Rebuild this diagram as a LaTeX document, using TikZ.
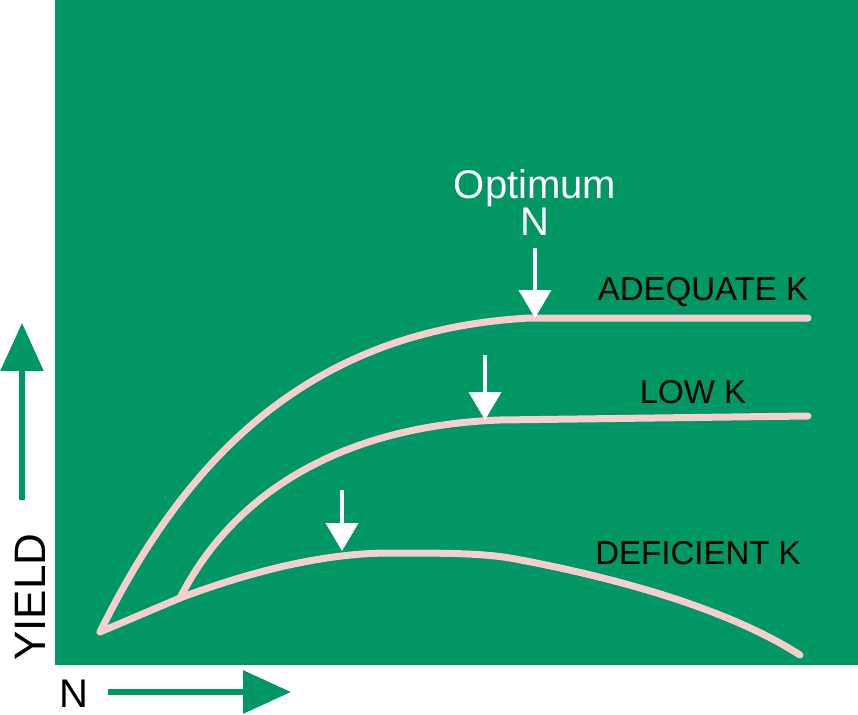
\documentclass[tikz,border=0pt]{standalone}
\usepackage{fontspec}
\setmainfont{Liberation Sans}
\usetikzlibrary{arrows.meta}
\definecolor{bg}{RGB}{0,150,102}
\definecolor{curve}{RGB}{246,206,204}
\tikzset{
 crv/.style={curve,line width=7pt,line cap=round,line join=round},
 warr/.style={white,line width=4pt,-{Triangle[width=32pt,length=28pt]}},
 garr/.style={bg,line width=6pt,-{Triangle[width=42pt,length=48pt]}},
 lbl/.style={font=\fontsize{33}{33}\selectfont,black},
}
\begin{document}
\begin{tikzpicture}[x=1pt,y=-1pt]
\useasboundingbox (0,0) rectangle (858,714);
\fill[bg] (55,0) rectangle (858,665);
% curves
\draw[crv] (100,632) .. controls (180,470) and (300,330) .. (530,318) -- (808,318);
\draw[crv] (180,598) .. controls (240,480) and (360,425) .. (500,420) -- (808,416);
\draw[crv] (100,632) -- (180,598) .. controls (260,568) and (330,553) .. (390,553) .. controls (440,553) and (480,553) .. (510,558) .. controls (620,578) and (730,610) .. (800,655);
% arrows
\coordinate (a1s) at (535,248); \coordinate (a1e) at (535,318);
\coordinate (a2s) at (485,355); \coordinate (a2e) at (485,420);
\coordinate (a3s) at (342,490); \coordinate (a3e) at (342,551);
\draw[warr] (a1s) -- (a1e);
\draw[warr] (a2s) -- (a2e);
\draw[warr] (a3s) -- (a3e);
\node[white,font=\fontsize{40}{40}\selectfont] (opt) at (535,188) {Optimum};
\node[white,font=\fontsize{40}{40}\selectfont] (optn) at (535,222) {N};
\node[lbl] (ad) at (703,292) {ADEQUATE K};
\node[lbl] (low) at (693,392) {LOW K};
\node[lbl] (def) at (698,553) {DEFICIENT K};
% axes
\coordinate (ys) at (22,500); \coordinate (ye) at (22,323);
\draw[garr] (ys) -- (ye);
\coordinate (xs) at (108,692); \coordinate (xe) at (291,692);
\draw[garr] (xs) -- (xe);
\node[black,font=\fontsize{44}{44}\selectfont,rotate=90] (yl) at (30,597) {YIELD};
\node[black,font=\fontsize{40}{40}\selectfont] (nl) at (74,694) {N};
\end{tikzpicture}
\end{document}
